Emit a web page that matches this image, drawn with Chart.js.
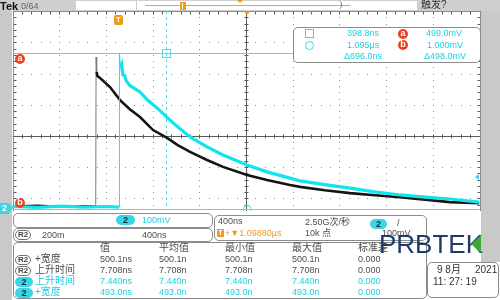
<!DOCTYPE html>
<html>
<head>
<meta charset="utf-8">
<title>Tek scope capture</title>
<script src="https://cdn.jsdelivr.net/npm/chart.js@4.4.1/dist/chart.umd.min.js"></script>
<style>
  body { margin: 0; background: #fff; }
  #scope { position: relative; width: 500px; height: 300px; overflow: hidden; background: #fff;
    font-family: "Liberation Sans", "Noto Sans CJK SC", sans-serif; font-size: 9px; color: #4c4c4c; }
  #scope canvas { position: absolute; left: 0; top: 0; }
  .a { position: absolute; white-space: nowrap; line-height: 1; }
  .gray { position: absolute; background: #c9c9c9; }
  .panel { position: absolute; background: #fff; border: 1.5px solid #8c8c8c; border-radius: 5px; box-sizing: border-box; }
  .cy { color: #1fcfe2; }
  .or { color: #f09a1a; }
  .pill { position: absolute; background: #3ad6e6; color: #10303a; font-weight: bold; border-radius: 5px;
    text-align: center; font-size: 9px; line-height: 10px; height: 10px; }
  .ref { position: absolute; border: 1.5px solid #6e6e6e; border-radius: 5px; font-weight: bold; color: #444;
    height: 8px; line-height: 8px; font-size: 8px; padding: 0 2px; }
  .dot { position: absolute; width: 10px; height: 10px; border-radius: 50%; background: #e8421c; color: #fff;
    font-size: 9px; font-weight: bold; text-align: center; line-height: 9px; }
</style>
</head>
<body>
<div id="scope">
  <canvas id="scopeChart" width="500" height="300"></canvas>

  <!-- top status bar -->
  <div class="gray" style="left:0;top:0;width:500px;height:11px;background:#cfcfcf"></div>
  <div class="a" style="left:0;top:1px;font-size:11px;font-weight:bold;color:#111">Tek</div>
  <div class="a" style="left:21px;top:2px;color:#666">0/64</div>
  <div class="a" style="left:76px;top:1px;width:60px;height:9px;background:#fff"></div>
  <div class="a" style="left:137px;top:1px;width:280px;height:9px;background:#fff"></div>
  <div class="a" style="left:145px;top:5px;width:205px;height:1px;background:#3fd8e6"></div>
  <div class="a" style="left:337px;top:1px;width:4px;height:8px;border-right:1px solid #777;border-radius:0 4px 4px 0"></div>
  <div class="a" style="left:180px;top:2px;width:6px;height:8px;background:#f09a1a;border-radius:1px"></div>
  <div class="a" style="left:182px;top:3px;width:1px;height:6px;background:#fff"></div>
  <div class="a" style="left:237px;top:0;border-left:3px solid transparent;border-right:3px solid transparent;border-top:3px solid #f09a1a"></div>
  <div class="a" style="left:421px;top:0;font-size:10px;color:#333">触发?</div>

  <!-- side strips and lower area -->
  <div class="gray" style="left:0;top:11px;width:12px;height:289px"></div>
  <div class="gray" style="left:481px;top:11px;width:19px;height:251px"></div>
  <div class="a" style="left:12px;top:211px;width:469px;height:89px;background:#fff"></div>

  <!-- markers on graticule -->
  <div class="dot" style="left:15px;top:54px">a</div>
  <div class="dot" style="left:15px;top:198px">b</div>
  <div class="a" style="left:0;top:203px;width:9px;height:11px;background:#3ad6e6;color:#fff;font-weight:bold;text-align:center;line-height:11px">2</div>
  <div class="a" style="left:9px;top:203px;border-top:5.5px solid transparent;border-bottom:5.5px solid transparent;border-left:4px solid #3ad6e6"></div>
  <div class="a" style="left:475px;top:174px;border-top:3px solid transparent;border-bottom:3px solid transparent;border-right:4px solid #3ad6e6"></div>
  <div class="a" style="left:114px;top:15px;width:9px;height:10px;background:#f09a1a;border-radius:2px;color:#fff;font-weight:bold;font-size:8px;text-align:center;line-height:10px">T</div>
  <div class="a" style="left:243px;top:11px;border-left:4px solid transparent;border-right:4px solid transparent;border-top:4px solid #f09a1a"></div>

  <!-- cursor readout -->
  <div class="panel" style="left:293px;top:27px;width:188px;height:36px"></div>
  <div class="a" style="left:305px;top:29px;width:7px;height:7px;border:1px solid #3ad6e6"></div>
  <div class="a" style="left:305px;top:41px;width:7px;height:7px;border:1px solid #3ad6e6;border-radius:50%"></div>
  <div class="a cy" style="left:347px;top:29px">398.8ns</div>
  <div class="a cy" style="left:347px;top:41px">1.095µs</div>
  <div class="a cy" style="left:344px;top:52px">Δ696.0ns</div>
  <div class="dot" style="left:398px;top:29px">a</div>
  <div class="dot" style="left:398px;top:40px">b</div>
  <div class="a cy" style="left:426px;top:29px">499.0mV</div>
  <div class="a cy" style="left:427px;top:41px">1.000mV</div>
  <div class="a cy" style="left:424px;top:52px">Δ498.0mV</div>

  <!-- channel / reference / timebase panels -->
  <div class="panel" style="left:13px;top:213px;width:200px;height:15px"></div>
  <div class="pill" style="left:116px;top:215px;width:19px">2</div>
  <div class="a cy" style="left:142px;top:216px">100mV</div>
  <div class="panel" style="left:13px;top:228px;width:200px;height:14px"></div>
  <div class="ref" style="left:15px;top:230px">R2</div>
  <div class="a" style="left:42px;top:231px">200m</div>
  <div class="a" style="left:142px;top:231px">400ns</div>
  <div class="panel" style="left:214px;top:215px;width:213px;height:26px"></div>
  <div class="a" style="left:218px;top:217px">400ns</div>
  <div class="a" style="left:305px;top:218px">2.50G次/秒</div>
  <div class="pill" style="left:370px;top:219px;width:17px">2</div>
  <div class="a" style="left:397px;top:219px">/</div>
  <div class="a" style="left:217px;top:229px;width:7px;height:8px;background:#f09a1a;color:#fff;font-size:7px;font-weight:bold;text-align:center;line-height:8px">T</div>
  <div class="a or" style="left:225px;top:229px">+▼1.09880µs</div>
  <div class="a" style="left:305px;top:229px">10k 点</div>
  <div class="a" style="left:382px;top:229px">100mV</div>

  <!-- measurement table -->
  <div class="panel" id="table" style="left:13px;top:242px;width:414px;height:57px"></div>

  <!-- watermark and clock -->
  <div class="a" style="left:379px;top:231px;font-size:26px;color:#1d3a6b;z-index:5">PRBTEK</div>
  <div class="a" style="left:471px;top:235px;border-top:9px solid transparent;border-bottom:9px solid transparent;border-right:10px solid #3aa935;z-index:6"></div>
  <div class="panel" style="left:427px;top:262px;width:72px;height:36px"></div>
  <div class="a" style="left:437px;top:265px;font-size:10px;color:#333">9 8月</div>
  <div class="a" style="left:475px;top:265px;font-size:10px;color:#333">2021</div>
  <div class="a" style="left:433px;top:277px;font-size:10px;color:#333">11: 27: 19</div>
</div>

<script>
// waveform values (time in ns, level in mV on the 100mV/div channel scale)
const cyanTime = [-915, -700, -500, -300, -100, -2, 1, 10, 20, 30, 45, 60, 90, 177, 240, 323, 400, 460, 530, 606, 751, 888, 1094, 1265, 1462, 1548, 1760, 1976, 2190, 2404, 2620, 2832, 3085];
const cyanMv = [8, 5, 9, 6, 8, 6, 499, 452, 462, 430, 428, 410, 396, 375, 350, 324, 297, 276, 254, 231, 199, 173, 141, 119, 99, 90, 78, 67, 55, 45, 38, 32, 22];
const refTime = [-915, -700, -500, -300, -202, -199, -194, -188, -165, -80, 6, 90, 177, 289, 409, 500, 606, 751, 888, 1094, 1265, 1462, 1548, 1760, 1976, 2190, 2404, 2620, 2832, 3085];
const refMv = [8, 10, 7, 9, 8, 487, 439, 426, 420, 391, 349, 320, 295, 253, 228, 205, 183, 157, 135, 109, 93, 77, 71, 60, 51, 44, 38, 30, 22, 19];

// cursors
const cursorTimes = [398.8, 1095];
const cursorLevels = [499, 1];

// measurement table
const tableHeads = ['值', '平均值', '最小值', '最大值', '标准差'];
const rowSource = ['R2', 'R2', '2', '2'];
const rowLabel = ['+宽度', '上升时间', '上升时间', '+宽度'];
const rowValue = ['500.1ns', '7.708ns', '7.440ns', '493.0ns'];
const rowMean = ['500.1n', '7.708n', '7.440n', '493.0n'];
const rowMin = ['500.1n', '7.708n', '7.440n', '493.0n'];
const rowMax = ['500.1n', '7.708n', '7.440n', '493.0n'];
const rowStd = ['0.000', '0.000', '0.000', '0.000'];

function buildTable() {
  const scope = document.getElementById('scope');
  const colX = [100, 159, 225, 292, 358];
  const rowY = [255, 266, 277, 288];
  const add = (text, cls, x, y, extra) => {
    const d = document.createElement('div');
    d.className = cls;
    d.style.left = x + 'px';
    d.style.top = y + 'px';
    if (extra) d.style.cssText += extra;
    d.textContent = text;
    scope.appendChild(d);
  };
  tableHeads.forEach((h, i) => add(h, 'a', colX[i], 243, 'font-size:10px'));
  rowLabel.forEach((label, r) => {
    const y = rowY[r];
    const cls = rowSource[r] === 'R2' ? 'a' : 'a cy';
    if (rowSource[r] === 'R2') add('R2', 'ref', 15, y);
    else add('2', 'pill', 15, y, 'width:18px');
    add(label, cls, 35, y - 1, 'font-size:10px');
    [rowValue, rowMean, rowMin, rowMax, rowStd].forEach((col, c) => add(col[r], cls, colX[c], y));
  });
}

// dotted graticule, centre cross, border ticks and the two cursor pairs
const graticule = {
  id: 'graticule',
  beforeDatasetsDraw(chart) {
    const { ctx, chartArea: a } = chart;
    const dx = (a.right - a.left) / 10;
    const dy = (a.bottom - a.top) / 8;
    ctx.save();
    ctx.fillStyle = '#8c8c8c';
    for (let i = 1; i < 10; i++) {
      if (i === 5) continue;
      const x = Math.round(a.left + i * dx);
      for (let j = 0; j <= 40; j++) ctx.fillRect(x, Math.round(a.top + j * dy / 5), 1, 1);
    }
    for (let i = 1; i < 8; i++) {
      if (i === 4) continue;
      const y = Math.round(a.top + i * dy);
      for (let j = 0; j <= 50; j++) ctx.fillRect(Math.round(a.left + j * dx / 5), y, 1, 1);
    }
    ctx.lineWidth = 1;
    const cx = Math.round(a.left + 5 * dx) + 0.5;
    const cy = Math.round(a.top + 4 * dy) + 0.5;
    const l = Math.round(a.left) + 0.5, r = Math.round(a.right) + 0.5, t = Math.round(a.top) + 0.5;
    ctx.strokeStyle = '#5c5c5c';
    ctx.beginPath();
    ctx.moveTo(cx, a.top); ctx.lineTo(cx, a.bottom);
    ctx.moveTo(a.left, cy); ctx.lineTo(a.right, cy);
    for (let j = 0; j <= 50; j++) {
      const x = Math.round(a.left + j * dx / 5) + 0.5;
      ctx.moveTo(x, cy - 2); ctx.lineTo(x, cy + 2);
      ctx.moveTo(x, t); ctx.lineTo(x, t + 3);
    }
    for (let j = 0; j <= 40; j++) {
      const y = Math.round(a.top + j * dy / 5) + 0.5;
      ctx.moveTo(cx - 2, y); ctx.lineTo(cx + 2, y);
      ctx.moveTo(l, y); ctx.lineTo(l + 3, y);
      ctx.moveTo(r, y); ctx.lineTo(r - 3, y);
    }
    ctx.stroke();
    ctx.strokeStyle = '#8a8a8a';
    ctx.beginPath();
    ctx.moveTo(l, a.bottom); ctx.lineTo(l, t); ctx.lineTo(r, t); ctx.lineTo(r, a.bottom);
    ctx.stroke();

    const xs = chart.scales.x, ys = chart.scales.y;
    const xa = Math.round(xs.getPixelForValue(cursorTimes[0])) + 0.5;
    const xb = xs.getPixelForValue(cursorTimes[1]);
    const ya = Math.round(ys.getPixelForValue(cursorLevels[0])) + 0.5;
    const yb = Math.round(ys.getPixelForValue(cursorLevels[1])) + 0.5;
    ctx.strokeStyle = '#4fdbe8';
    ctx.beginPath();
    ctx.moveTo(a.left, ya); ctx.lineTo(a.right, ya);
    ctx.moveTo(a.left, yb); ctx.lineTo(a.right, yb);
    ctx.stroke();
    ctx.setLineDash([3, 3]);
    ctx.beginPath();
    ctx.moveTo(xa, a.top); ctx.lineTo(xa, yb);
    ctx.stroke();
    ctx.setLineDash([]);
    ctx.strokeRect(xa - 4, ya - 4, 8, 8);
    ctx.beginPath();
    ctx.arc(xb, yb, 4, 0, Math.PI * 2);
    ctx.stroke();
    ctx.restore();
  }
};

// pulse edges (big jump within a few ns) are drawn thin, like the scope does
const steep = (c) => Math.abs(c.p1.parsed.y - c.p0.parsed.y) > 40 && Math.abs(c.p1.parsed.x - c.p0.parsed.x) < 12;

function initializeChart() {
  const ctx = document.getElementById('scopeChart');
  new Chart(ctx.getContext('2d'), {
    type: 'line',
    data: {
      datasets: [{
        label: 'CH2',
        data: cyanTime.map((t, i) => ({ x: t, y: cyanMv[i] })),
        borderColor: '#12e4ee',
        borderWidth: 3.2,
        pointRadius: 0,
        tension: 0,
        segment: { borderWidth: c => steep(c) ? 1 : 3.2 }
      }, {
        label: 'R2',
        data: refTime.map((t, i) => ({ x: t, y: refMv[i] })),
        borderColor: '#151515',
        borderWidth: 2.6,
        pointRadius: 0,
        tension: 0,
        segment: {
          borderWidth: c => steep(c) ? 1 : 2.6,
          borderColor: c => steep(c) ? '#7a7a7a' : '#151515'
        }
      }]
    },
    options: {
      responsive: false,
      animation: false,
      devicePixelRatio: 1,
      layout: { padding: { left: 12.5, right: 20.5, top: 11.2, bottom: 39.2 } },
      scales: {
        x: { type: 'linear', min: -915, max: 3085, display: false },
        y: { type: 'linear', min: -166, max: 634, display: false }
      },
      plugins: { legend: { display: false }, tooltip: { enabled: false } }
    },
    plugins: [graticule]
  });
}

buildTable();
initializeChart();
</script>
</body>
</html>
